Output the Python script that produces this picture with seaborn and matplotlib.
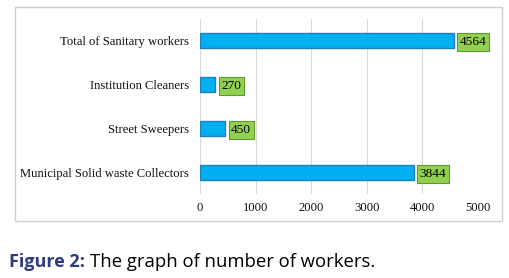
import matplotlib
matplotlib.use("Agg")
import matplotlib.pyplot as plt
import seaborn as sns
import pandas as pd
from matplotlib.patches import Rectangle

categories = ["Total of Sanitary workers", "Institution Cleaners",
              "Street Sweepers", "Municipal Solid waste Collectors"]
values = [4564, 270, 450, 3844]
xticks = [0, 1000, 2000, 3000, 4000, 5000]

df = pd.DataFrame({"category": categories, "value": values})

sns.set_theme(style="white")
plt.rcParams['font.family'] = ['Liberation Serif', 'DejaVu Serif']

fig = plt.figure(figsize=(5.10, 2.78), dpi=100)
ax = fig.add_axes([0.392, 0.302, 0.545, 0.630])

sns.barplot(data=df, y="category", x="value", orient="h", ax=ax,
            color="#00b0f0", edgecolor="#1f7fc0", linewidth=1.0,
            width=0.34, saturation=1)

for i, v in enumerate(values):
    ax.annotate(f"{v}", xy=(v, i), xytext=(4.5, 0), textcoords="offset points",
                ha="left", va="center_baseline", fontsize=9.6, color="black",
                bbox=dict(boxstyle="square,pad=0.2", fc="#92d050", ec="#5e9a2a", lw=0.8))

ax.set_xlim(0, 5000)
ax.set_ylim(3.49, -0.49)
ax.set_xticks(xticks)
ax.set_xticklabels([str(t) for t in xticks])
ax.xaxis.grid(True, color="#d9d9d9", linewidth=0.8)
ax.set_axisbelow(True)
for s in ax.spines.values():
    s.set_visible(False)
ax.set_xlabel("")
ax.set_ylabel("")
ax.tick_params(axis="both", length=0, labelsize=9.1, colors="#111111")
ax.tick_params(axis="y", pad=8)
ax.tick_params(axis="x", pad=6)

fig.patches.append(Rectangle((15/510, 1-221/278), 487/510, 214/278,
                             transform=fig.transFigure, fill=False,
                             ec="#cfcfcf", lw=1.0))

t1 = fig.text(9/510, 1-262/278, "Figure 2:", fontsize=13, fontweight="bold",
              color="#2e3b80", family=["Open Sans", "DejaVu Sans"], va="center", ha="left")
ax.annotate("The graph of number of workers.", xy=(1, 0.5), xycoords=t1,
            xytext=(4, 0), textcoords="offset points", fontsize=13.3,
            color="black", family=["Open Sans", "DejaVu Sans"], va="center", ha="left",
            annotation_clip=False)

fig.savefig("out.png", dpi=100)
